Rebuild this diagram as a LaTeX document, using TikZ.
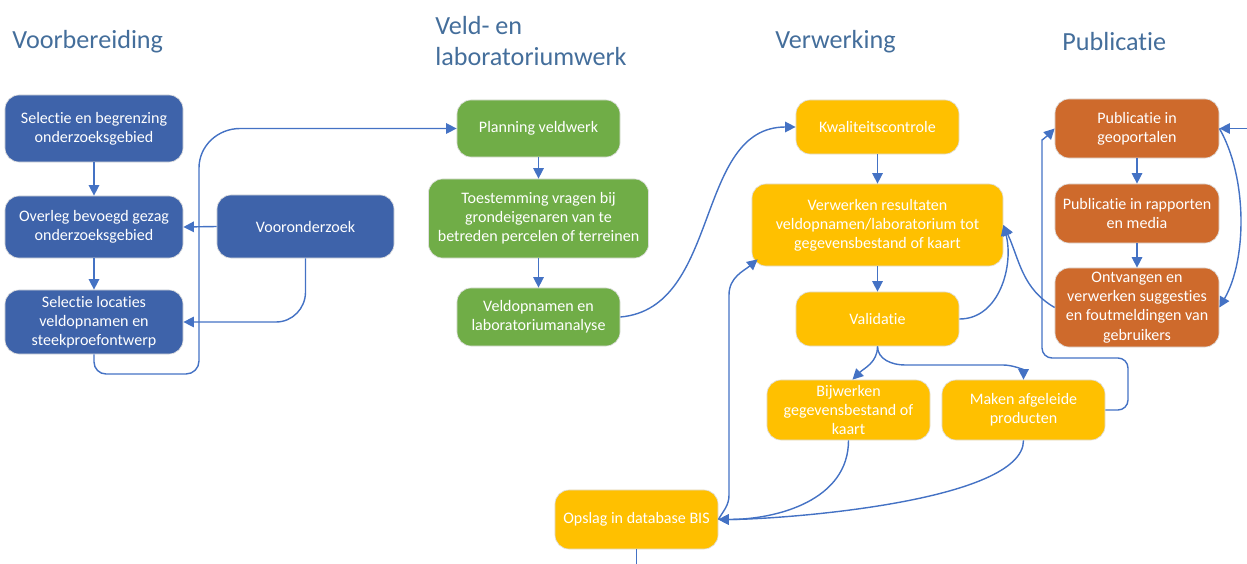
\documentclass[tikz,border=0pt]{standalone}
\usepackage{fontspec}
\setmainfont{Carlito}[Ligatures=NoCommon]
\usepackage{xcolor}
\usetikzlibrary{shapes,arrows.meta,positioning}
\definecolor{kop}{RGB}{68,110,155}
\definecolor{blauw}{RGB}{62,99,170}
\definecolor{groen}{RGB}{112,173,71}
\definecolor{geel}{RGB}{255,192,0}
\definecolor{oranje}{RGB}{206,106,44}
\definecolor{lijn}{RGB}{68,114,196}

\begin{document}
\begin{tikzpicture}[x=0.025cm, y=0.025cm, auto]
    % Define styles
    \tikzstyle{stap} = [rectangle, rounded corners=0.35cm, draw=gray!25, line width=0.5pt, text=white, align=center, inner sep=2pt, font=\fontsize{11.4}{13.6}\selectfont]
    \tikzstyle{kopje} = [anchor=west, inner sep=0pt, text=kop, align=left, font=\fontsize{18.6}{22}\selectfont]
    \tikzstyle{pijl} = [line width=1pt, draw=lijn, -{Triangle[length=7.5pt,width=7.5pt]}]
    \useasboundingbox (0,0) rectangle (1247,-564);

    % Headings
    \node [kopje] (kopvoorb) at (12,-42) {Voorbereiding};
    \node [kopje] (kopveld) at (435,-41) {Veld- en\\laboratoriumwerk};
    \node [kopje] (kopverw) at (775,-42) {Verwerking};
    \node [kopje] (koppubl) at (1062,-42) {Publicatie};

    % Voorbereiding
    \node [stap, fill=blauw, minimum width=4.45cm, minimum height=1.675cm] (selectie) at (94,-128.5) {Selectie en begrenzing\\onderzoeksgebied};
    \node [stap, fill=blauw, minimum width=4.45cm, minimum height=1.55cm] (overleg) at (94,-227) {Overleg bevoegd gezag\\onderzoeksgebied};
    \node [stap, fill=blauw, minimum width=4.45cm, minimum height=1.6cm] (locaties) at (94,-322) {Selectie locaties\\veldopnamen en\\steekproefontwerp};
    \node [stap, fill=blauw, minimum width=4.425cm, minimum height=1.575cm] (vooronderzoek) at (305.5,-226.5) {Vooronderzoek};

    % Veld- en laboratoriumwerk
    \node [stap, fill=groen, minimum width=4.075cm, minimum height=1.425cm] (planning) at (538.5,-128.5) {Planning veldwerk};
    \node [stap, fill=groen, minimum width=5.5cm, minimum height=1.975cm] (toestemming) at (538.5,-218.5) {Toestemming vragen bij\\grondeigenaren van te\\betreden percelen of terreinen};
    \node [stap, fill=groen, minimum width=4.075cm, minimum height=1.45cm] (veldopnamen) at (538.5,-317) {Veldopnamen en\\laboratoriumanalyse};

    % Verwerking
    \node [stap, fill=geel, minimum width=4.075cm, minimum height=1.35cm] (kwaliteit) at (877.5,-127) {Kwaliteitscontrole};
    \node [stap, fill=geel, minimum width=6.275cm, minimum height=2.05cm] (verwerken) at (877.5,-225) {Verwerken resultaten\\veldopnamen/laboratorium tot\\gegevensbestand of kaart};
    \node [stap, fill=geel, minimum width=4.075cm, minimum height=1.35cm] (validatie) at (877.5,-319) {Validatie};
    \node [stap, fill=geel, minimum width=4.075cm, minimum height=1.5cm] (bijwerken) at (848.5,-410) {Bijwerken\\gegevensbestand of\\kaart};
    \node [stap, fill=geel, minimum width=4.075cm, minimum height=1.5cm] (afgeleid) at (1023.5,-410) {Maken afgeleide\\producten};
    \node [stap, fill=geel, minimum width=4.075cm, minimum height=1.475cm] (opslag) at (636.5,-519.5) {Opslag in database BIS};

    % Publicatie
    \node [stap, fill=oranje, minimum width=4.1cm, minimum height=1.475cm] (geoportalen) at (1137,-128.5) {Publicatie in\\geoportalen};
    \node [stap, fill=oranje, minimum width=4.1cm, minimum height=1.475cm] (rapporten) at (1137,-213.5) {Publicatie in rapporten\\en media};
    \node [stap, fill=oranje, minimum width=4.1cm, minimum height=1.975cm] (meldingen) at (1137,-307.5) {Ontvangen en\\verwerken suggesties\\en foutmeldingen van\\gebruikers};

    % Loose ends at the border
    \coordinate (pubin) at (1247,-128.5);
    \coordinate (opslaguit) at (636.5,-564);

    % Arrows
    \draw [pijl] (selectie) -- (overleg);
    \draw [pijl] (overleg) -- (locaties);
    \draw [pijl] (vooronderzoek.west) -- (overleg.east);
    \draw [pijl] (vooronderzoek.south) -- (305.5,-292) to[out=-90,in=0] (276,-322) -- (locaties.east);
    \draw [pijl] (locaties.south) -- (94,-362) to[out=-90,in=180] (106,-374) -- (186,-374) to[out=0,in=-90] (199,-361) -- (199,-168) to[out=90,in=180] (240,-128.5) -- (planning.west);
    \draw [pijl] (planning) -- (toestemming);
    \draw [pijl] (toestemming) -- (veldopnamen);
    \draw [pijl] (veldopnamen.east) to[out=5,in=180] (kwaliteit.west);
    \draw [pijl] (kwaliteit) -- (verwerken);
    \draw [pijl] (verwerken) -- (validatie);
    \draw [pijl] (validatie.east) to[out=0,in=-75] (verwerken.east);
    \draw [pijl] (validatie.south) to[out=-90,in=45] ([xshift=0.1cm]bijwerken.north);
    \draw [pijl] (validatie.south) to[out=-90,in=180] (905,-365) -- (1003,-365) to[out=0,in=90] (afgeleid.north);
    \draw [pijl, rounded corners=0.25cm] (afgeleid.east) -- (1128,-410) -- (1128,-358) -- (1042,-358) -- (1042,-150) to[out=90,in=-135] (geoportalen.west);
    \draw [pijl] (meldingen.west) to[out=150,in=-65] (verwerken.east);
    \draw [pijl] (pubin) -- (geoportalen.east);
    \draw [pijl] (geoportalen.east) to[out=-60,in=60,looseness=0.8] (meldingen.east);
    \draw [pijl] (geoportalen) -- (rapporten);
    \draw [pijl] (rapporten) -- (meldingen);
    \draw [pijl] (bijwerken.south) to[out=-90,in=0] (opslag.east);
    \draw [pijl] (afgeleid.south) to[out=-90,in=0,looseness=0.5] (opslag.east);
    \draw [pijl] (opslag.east) to[out=60,in=-90] (729,-495) -- (729,-295) to[out=90,in=-140] ([shift={(6,7)}]verwerken.south west);
    \draw [line width=1pt, draw=lijn] (opslag.south) -- (opslaguit);
\end{tikzpicture}
\end{document}
